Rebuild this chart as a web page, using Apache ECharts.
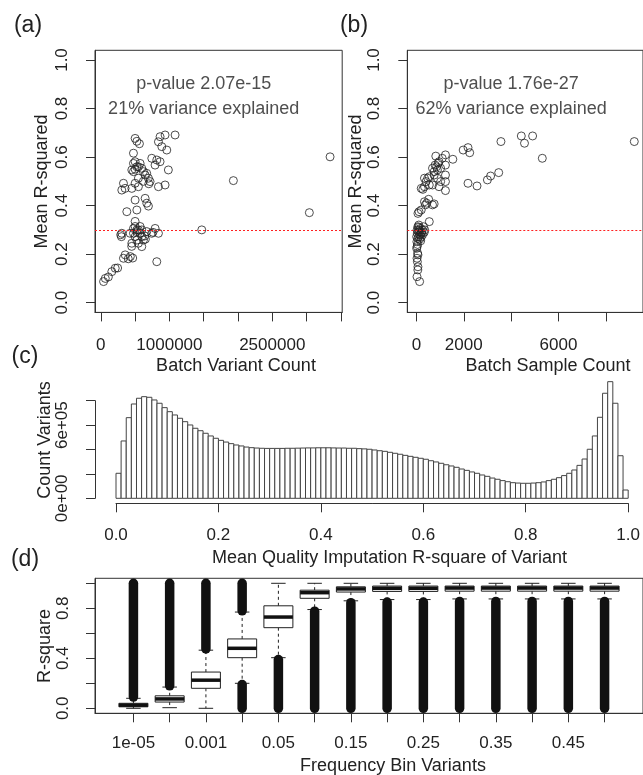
<!DOCTYPE html>
<html><head><meta charset="utf-8">
<script src="https://cdn.jsdelivr.net/npm/echarts@6/dist/echarts.min.js"></script>
<style>html,body{margin:0;padding:0;background:#fff}#c{width:643px;height:775px}</style>
</head><body><div id="c"></div>
<script>
// ---------- DATA ----------
// Panel (a): batch variant count vs mean R-squared
const aPoints = [[40000,0.087],[65000,0.100],[110000,0.106],[160000,0.128],[210000,0.142],[245000,0.143],[330000,0.183],[355000,0.197],[400000,0.181],[430000,0.190],[465000,0.184],[816000,0.169],[450000,0.232],[290000,0.280],[300000,0.272],[306000,0.286],[476000,0.306],[500000,0.314],[525000,0.293],[548000,0.300],[573000,0.286],[597000,0.272],[621000,0.258],[525000,0.258],[500000,0.272],[452000,0.245],[548000,0.245],[597000,0.231],[670000,0.293],[743000,0.286],[792000,0.306],[840000,0.286],[476000,0.286],[427000,0.286],[500000,0.335],[525000,0.300],[573000,0.314],[597000,0.300],[640000,0.275],[1472000,0.300],[379000,0.375],[525000,0.382],[500000,0.423],[646000,0.430],[670000,0.410],[694000,0.398],[306000,0.464],[330000,0.492],[354000,0.471],[452000,0.471],[500000,0.492],[548000,0.478],[548000,0.513],[476000,0.540],[452000,0.547],[500000,0.550],[597000,0.554],[621000,0.540],[646000,0.526],[669000,0.533],[694000,0.513],[718000,0.499],[840000,0.478],[937000,0.485],[985000,0.547],[791000,0.567],[743000,0.595],[816000,0.588],[864000,0.581],[840000,0.663],[889000,0.643],[962000,0.629],[864000,0.684],[937000,0.691],[1083000,0.691],[476000,0.616],[500000,0.581],[476000,0.574],[500000,0.677],[525000,0.665],[563000,0.655],[525000,0.560],[548000,0.560],[573000,0.574],[1933000,0.503],[3041000,0.371],[3343000,0.601],[620000,0.500],[700000,0.490],[760000,0.290],[650000,0.262]];
// Panel (b): batch sample count vs mean R-squared
const bPoints = [[135,0.087],[25,0.107],[60,0.135],[65,0.148],[25,0.183],[65,0.197],[40,0.169],[10,0.224],[50,0.204],[30,0.231],[20,0.251],[60,0.265],[100,0.272],[150,0.280],[40,0.286],[200,0.290],[80,0.293],[120,0.300],[30,0.300],[250,0.300],[170,0.306],[60,0.313],[100,0.320],[300,0.313],[220,0.286],[140,0.262],[10,0.272],[180,0.255],[90,0.310],[260,0.280],[350,0.300],[330,0.290],[50,0.240],[200,0.270],[130,0.292],[108,0.375],[65,0.368],[204,0.382],[544,0.334],[435,0.410],[381,0.403],[749,0.407],[680,0.403],[517,0.426],[340,0.416],[271,0.467],[340,0.478],[204,0.471],[544,0.485],[680,0.485],[954,0.478],[409,0.499],[476,0.513],[544,0.519],[340,0.513],[749,0.526],[680,0.554],[749,0.540],[886,0.547],[1022,0.554],[790,0.567],[954,0.581],[818,0.604],[1090,0.595],[1227,0.609],[1227,0.567],[1227,0.526],[1227,0.499],[1227,0.462],[885,0.513],[1022,0.499],[1538,0.591],[850,0.560],[920,0.575],[1975,0.629],[2180,0.639],[2250,0.618],[2180,0.492],[2560,0.481],[2998,0.506],[3133,0.522],[3476,0.536],[3570,0.664],[4430,0.687],[4565,0.657],[4908,0.687],[5317,0.595],[9202,0.664]];
const threshold = 0.3;
const aNotes = [[1500000,0.9,'p-value 2.07e-15'],[1500000,0.8,'21% variance explained']];
const bNotes = [[4000,0.9,'p-value 1.76e-27'],[4000,0.8,'62% variance explained']];
const aXTicks = [0,500000,1000000,1500000,2000000,2500000,3000000,3500000];
const aXLabels = [0,1000000,2500000];
const bXTicks = [0,2000,4000,6000,8000];
const bXLabels = [0,2000,6000];
const rTicks = [0,0.2,0.4,0.6,0.8,1.0];

// Panel (c): histogram of mean imputation R-square (bin width 0.01)
const hBinWidth = 0.01;
const hCounts = [205000,470000,661000,773000,820000,833000,828000,806000,779000,743000,
 710000,683000,656000,628000,601000,574000,554000,533000,511000,492000,
 475000,461000,448000,437000,429000,420000,415000,412000,410000,409000,
 409000,409000,409000,410000,410000,411000,412000,413000,413000,414000,
 414000,414000,413000,412000,412000,410000,410000,407000,405000,402000,
 396000,390000,385000,377000,369000,361000,352000,344000,336000,328000,
 320000,308000,298000,287000,275000,265000,254000,240000,229000,216000,
 205000,191000,180000,166000,156000,145000,136000,128000,125000,123000,
 123000,125000,128000,134000,145000,156000,169000,186000,205000,232000,
 270000,322000,402000,511000,664000,861000,956000,779000,349000,68000];
const hXTicks = [0,0.2,0.4,0.6,0.8,1.0];
const hYTicks = [0,200000,400000,600000,800000];
const hYLabels = [0,600000];

// Panel (d): boxplots of R-square per frequency bin
const dCats = ['1e-05','1e-04','0.001','0.01','0.05','0.1','0.15','0.2','0.25','0.3','0.35','0.4','0.45','0.5'];
const dLow  = [0.000,0.005,0.000,0.200,0.405,0.790,0.860,0.870,0.870,0.875,0.875,0.875,0.875,0.875];
const dQ1   = [0.012,0.050,0.160,0.405,0.645,0.880,0.930,0.935,0.935,0.937,0.937,0.937,0.937,0.937];
const dMed  = [0.025,0.075,0.225,0.480,0.730,0.925,0.955,0.960,0.960,0.962,0.962,0.962,0.962,0.962];
const dQ3   = [0.040,0.100,0.290,0.555,0.820,0.945,0.972,0.978,0.978,0.978,0.978,0.978,0.978,0.978];
const dHigh = [0.080,0.170,0.465,0.770,1.000,1.000,1.000,1.000,1.000,1.000,1.000,1.000,1.000,1.000];
const dOutUpper = [[0.09,1.0],[0.18,1.0],[0.475,1.0],[0.78,1.0],null,null,null,null,null,null,null,null,null,null];
const dOutLower = [null,null,null,[0,0.19],[0,0.39],[0,0.777],[0,0.845],[0,0.85],[0,0.85],[0,0.855],[0,0.855],[0,0.855],[0,0.855],[0,0.855]];
const dYLabels = [0,0.4,0.8];
const dXLabelPos = [1,3,5,7,9,11,13];

// ---------- CHART ----------
const FONT = '"Liberation Sans", Arial, Helvetica, sans-serif';
const INK = '#222';
const LINE = '#333';
const chart = echarts.init(document.getElementById('c'), null, {renderer:'canvas'});

function mkAxis(o){
  return {
    type:'value', gridIndex:o.grid, min:o.min, max:o.max, offset:o.offset||0,
    splitLine:{show:false},
    axisLine:{show:true, onZero:false, lineStyle:{color:LINE, width:1}},
    axisTick:{show:true, length:9, customValues:o.ticks, lineStyle:{color:LINE, width:1}},
    axisLabel:{show:true, customValues:o.labels, formatter:o.fmt, color:INK, fontSize:17,
      fontFamily:FONT, margin:o.margin, rotate:o.rotate||0}
  };
}
const f1 = v => v.toFixed(1);
const fInt = v => String(Math.round(v));
const fExp = v => {
  if (v === 0) return '0e+00';
  const e = Math.floor(Math.log10(v)); const m = Math.round(v/Math.pow(10,e));
  return m + 'e+' + (e<10?'0':'') + e;
};

const posList = dCats.map((c,i)=>i+1);
const boxData = posList.map((p,i)=>[p,dLow[i],dQ1[i],dMed[i],dQ3[i],dHigh[i]]);
const outData = [];
posList.forEach((p,i)=>{
  if (dOutUpper[i]) outData.push([p,dOutUpper[i][0],dOutUpper[i][1]]);
  if (dOutLower[i]) outData.push([p,dOutLower[i][0],dOutLower[i][1]]);
});
const histData = hCounts.map((c,i)=>[i*hBinWidth,(i+1)*hBinWidth,c]);

const scatterStyle = {color:'rgba(0,0,0,0)', borderColor:INK, borderWidth:1};
const redLine = {silent:true, symbol:'none', label:{show:false},
  lineStyle:{color:'#ff2020', type:[2,2], width:1}, data:[{yAxis:threshold}]};
const noteSeries = (xi, data) => ({
  type:'scatter', xAxisIndex:xi, yAxisIndex:xi, data:data, symbolSize:1,
  itemStyle:{color:'rgba(0,0,0,0)'}, silent:true,
  label:{show:true, position:'inside', formatter:p=>p.value[2], color:INK, fontSize:18, fontFamily:FONT}
});

const textEl = (t,x,y,size,rot) => ({type:'text', x:x, y:y, rotation:rot?Math.PI/2:0,
  style:{text:t, fill:INK, fontSize:size, fontFamily:FONT, align:'center', verticalAlign:'middle'}});

const option = {
  animation:false,
  backgroundColor:'#fff',
  grid:[
    {left:95, top:50.3, width:247.2, height:262.1, show:true, borderColor:LINE, borderWidth:1, backgroundColor:'transparent'},
    {left:407.3, top:50.3, width:243.4, height:262.1, show:true, borderColor:LINE, borderWidth:1, backgroundColor:'transparent'},
    {left:116, top:400.7, width:516.7, height:97.6, show:false},
    {left:95, top:578.3, width:558.3, height:135, show:true, borderColor:LINE, borderWidth:1, backgroundColor:'transparent'}
  ],
  xAxis:[
    mkAxis({grid:0, min:-85000, max:3520000, ticks:aXTicks, labels:aXLabels, fmt:fInt, margin:24}),
    mkAxis({grid:1, min:-385, max:9570, ticks:bXTicks, labels:bXLabels, fmt:fInt, margin:24}),
    mkAxis({grid:2, min:0, max:1, ticks:hXTicks, labels:hXTicks, fmt:f1, margin:24, offset:5}),
    mkAxis({grid:3, min:-0.06, max:15.06, ticks:posList, labels:dXLabelPos, fmt:v=>dCats[Math.round(v)-1], margin:22})
  ],
  yAxis:[
    mkAxis({grid:0, min:-0.04, max:1.04, ticks:rTicks, labels:rTicks, fmt:f1, margin:24, rotate:90}),
    mkAxis({grid:1, min:-0.04, max:1.04, ticks:rTicks, labels:rTicks, fmt:f1, margin:24, rotate:90}),
    mkAxis({grid:2, min:0, max:800000, ticks:hYTicks, labels:hYLabels, fmt:fExp, margin:24, rotate:90, offset:21}),
    mkAxis({grid:3, min:-0.04, max:1.04, ticks:rTicks, labels:dYLabels, fmt:f1, margin:23, rotate:90})
  ],
  series:[
    {type:'scatter', xAxisIndex:0, yAxisIndex:0, data:aPoints, symbol:'circle', symbolSize:8,
      itemStyle:scatterStyle, markLine:redLine, silent:true},
    noteSeries(0, aNotes),
    {type:'scatter', xAxisIndex:1, yAxisIndex:1, data:bPoints, symbol:'circle', symbolSize:8,
      itemStyle:scatterStyle, markLine:redLine, silent:true},
    noteSeries(1, bNotes),
    {type:'custom', xAxisIndex:2, yAxisIndex:2, data:histData, clip:false, silent:true,
      encode:{x:[0,1], y:2},
      renderItem:(params, api)=>{
        const p0 = api.coord([api.value(0), api.value(2)]);
        const p1 = api.coord([api.value(1), 0]);
        return {type:'rect', shape:{x:p0[0], y:p0[1], width:p1[0]-p0[0], height:p1[1]-p0[1]},
          style:{fill:'#fff', stroke:'#444', lineWidth:1}};
      }},
    {type:'custom', xAxisIndex:3, yAxisIndex:3, data:boxData, clip:false, silent:true,
      encode:{x:0, y:[1,2,3,4,5]},
      renderItem:(params, api)=>{
        const pos = api.value(0);
        const lo = api.value(1), q1 = api.value(2), md = api.value(3), q3 = api.value(4), hi = api.value(5);
        const bw = api.size([0.8, 0])[0];
        const cx = api.coord([pos, md])[0];
        const Y = v => api.coord([pos, v])[1];
        const dash = {stroke:'#222', lineWidth:1, lineDash:[3,3]};
        const solid = {stroke:'#222', lineWidth:1};
        const ch = [];
        if (hi > q3) {
          ch.push({type:'line', shape:{x1:cx, y1:Y(q3), x2:cx, y2:Y(hi)}, style:dash});
          ch.push({type:'line', shape:{x1:cx-bw/4, y1:Y(hi), x2:cx+bw/4, y2:Y(hi)}, style:solid});
        }
        if (lo < q1) {
          ch.push({type:'line', shape:{x1:cx, y1:Y(q1), x2:cx, y2:Y(lo)}, style:dash});
          ch.push({type:'line', shape:{x1:cx-bw/4, y1:Y(lo), x2:cx+bw/4, y2:Y(lo)}, style:solid});
        }
        ch.push({type:'rect', shape:{x:cx-bw/2, y:Y(q3), width:bw, height:Y(q1)-Y(q3)},
          style:{fill:'#fff', stroke:'#222', lineWidth:1}});
        ch.push({type:'line', shape:{x1:cx-bw/2, y1:Y(md), x2:cx+bw/2, y2:Y(md)},
          style:{stroke:'#111', lineWidth:3.5}});
        return {type:'group', children:ch};
      }},
    {type:'custom', xAxisIndex:3, yAxisIndex:3, data:outData, clip:false, silent:true,
      encode:{x:0, y:[1,2]},
      renderItem:(params, api)=>{
        const pos = api.value(0);
        const a = api.coord([pos, api.value(1)]);
        const b = api.coord([pos, api.value(2)]);
        return {type:'line', shape:{x1:a[0], y1:a[1], x2:b[0], y2:b[1]},
          style:{stroke:'#111', lineWidth:9.5, lineCap:'round'}};
      }}
  ],
  graphic:{elements:[
    textEl('(a)', 28, 26, 23),
    textEl('(b)', 354, 26, 23),
    textEl('(c)', 25, 357, 23),
    textEl('(d)', 25, 560, 23),
    textEl('Mean R-squared', 42, 181.5, 18, true),
    textEl('Mean R-squared', 356, 181.5, 18, true),
    textEl('Batch Variant Count', 236, 366, 18),
    textEl('Batch Sample Count', 548, 366, 18),
    textEl('Count Variants', 45, 440, 18, true),
    textEl('Mean Quality Imputation R-square of Variant', 389.5, 558, 18),
    textEl('R-square', 45, 646, 18, true),
    textEl('Frequency Bin Variants', 393, 766, 18)
  ]}
};
chart.setOption(option);
</script>
</body></html>
